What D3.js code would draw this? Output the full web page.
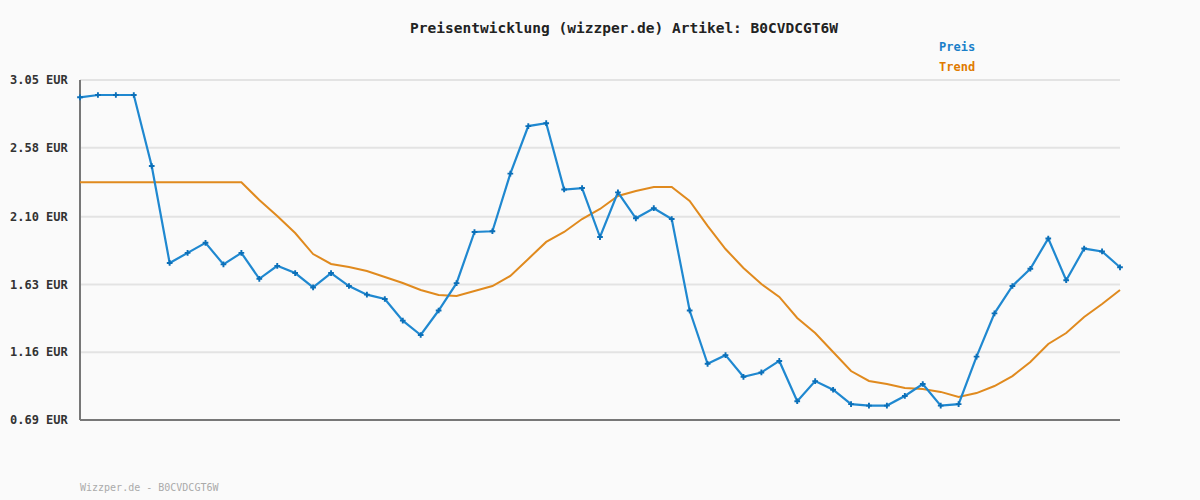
<!DOCTYPE html>
<html><head><meta charset="utf-8">
<script src="https://cdn.jsdelivr.net/npm/d3@7"></script>
<style>body{margin:0;background:#fafafa}svg{display:block}text{font-family:"DejaVu Sans Mono",monospace}</style>
</head><body><svg id="c" width="1200" height="500"></svg>
<script>
const tickValues = [0.69, 1.16, 1.63, 2.10, 2.58, 3.05];
const price = [2.93,2.946,2.946,2.946,2.453,1.78,1.85,1.92,1.77,1.85,1.67,1.76,1.71,1.61,1.71,1.62,1.56,1.53,1.38,1.28,1.45,1.64,1.995,2.00,2.40,2.73,2.75,2.29,2.30,1.96,2.27,2.09,2.16,2.085,1.45,1.08,1.14,0.99,1.02,1.10,0.82,0.96,0.90,0.80,0.79,0.79,0.857,0.94,0.79,0.80,1.13,1.43,1.62,1.74,1.95,1.66,1.88,1.86,1.75];
const trend = [2.34,2.34,2.34,2.34,2.34,2.34,2.34,2.34,2.34,2.34,2.217,2.106,1.988,1.842,1.773,1.752,1.724,1.683,1.641,1.592,1.558,1.551,1.585,1.620,1.690,1.808,1.926,1.995,2.085,2.155,2.245,2.280,2.307,2.307,2.210,2.037,1.877,1.745,1.634,1.544,1.398,1.294,1.162,1.030,0.961,0.940,0.912,0.905,0.885,0.850,0.877,0.926,0.995,1.093,1.218,1.294,1.405,1.495,1.592];
const title = "Preisentwicklung (wizzper.de) Artikel: B0CVDCGT6W";
const footer = "Wizzper.de - B0CVDCGT6W";

const svg = d3.select("#c");
const L=80,R=1120,T=80,B=420;
const x = d3.scaleLinear().domain([0, price.length-1]).range([L,R]);
const y = d3.scaleLinear().domain([0.69,3.05]).range([B,T]);

svg.append("rect").attr("width",1200).attr("height",500).attr("fill","#fafafa");
svg.append("g").selectAll("line").data(tickValues).join("line")
  .attr("x1",L).attr("x2",R).attr("y1",d=>y(d)).attr("y2",d=>y(d))
  .attr("stroke","#e3e3e3").attr("stroke-width",2);
svg.append("g").selectAll("text").data(tickValues).join("text")
  .attr("x",10).attr("y",d=>y(d)+4).attr("font-size",12).attr("font-weight","bold").attr("fill","#333")
  .text(d=>d.toFixed(2)+" EUR");
svg.append("line").attr("x1",L).attr("x2",L).attr("y1",T).attr("y2",B).attr("stroke","#777").attr("stroke-width",2);
svg.append("line").attr("x1",L).attr("x2",R).attr("y1",B).attr("y2",B).attr("stroke","#777").attr("stroke-width",2);

const line = d3.line().x((d,i)=>x(i)).y(d=>y(d));
svg.append("path").datum(trend).attr("d",line).attr("fill","none").attr("stroke","#e08a1e").attr("stroke-width",2);
svg.append("path").datum(price).attr("d",line).attr("fill","none").attr("stroke","#1f88d0").attr("stroke-width",2.2);
svg.append("g").selectAll("path").data(price).join("path")
  .attr("d",d3.symbol(d3.symbolCross,18)).attr("transform",(d,i)=>`translate(${x(i)},${y(d)})`).attr("fill","#0b6fb8");

svg.append("text").attr("x",624).attr("y",33).attr("text-anchor","middle").attr("font-size",14.5).attr("font-weight","bold").attr("fill","#222").text(title);
svg.append("text").attr("x",939).attr("y",51).attr("font-size",12).attr("font-weight","bold").attr("fill","#1a7fc9").text("Preis");
svg.append("text").attr("x",939).attr("y",71).attr("font-size",12).attr("font-weight","bold").attr("fill","#e07b00").text("Trend");
svg.append("text").attr("x",80).attr("y",491).attr("font-size",10).attr("fill","#aaa").text(footer);
</script></body></html>
